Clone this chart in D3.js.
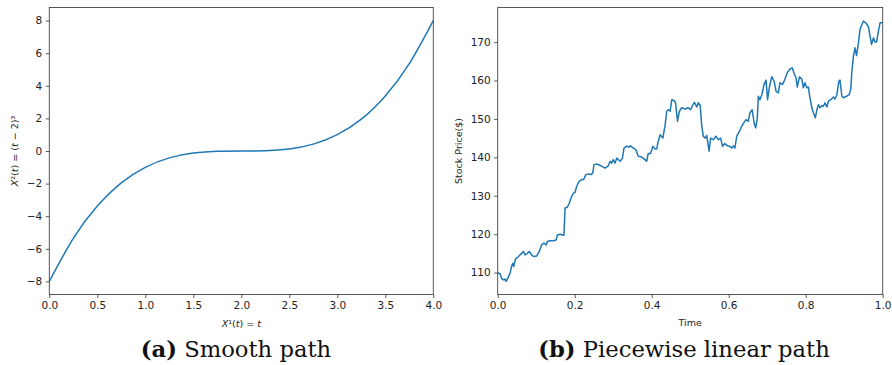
<!DOCTYPE html>
<html>
<head>
<meta charset="utf-8">
<script src="https://cdn.jsdelivr.net/npm/d3@7"></script>
<style>
  body { margin: 0; background: #fff; }
  svg text { font-family: "DejaVu Sans", sans-serif; }
  .caption { font-family: "DejaVu Serif", serif; }
</style>
</head>
<body>
<svg id="chart" width="892" height="365"></svg>
<script>
// (a) smooth path
const smoothT = [0, 0.25, 0.5, 0.75, 1, 1.25, 1.5, 1.75, 2, 2.25, 2.5, 2.75, 3, 3.25, 3.5, 3.75, 4];
const smoothX2 = [-8, -5.36, -3.38, -1.95, -1, -0.42, -0.125, -0.016, 0, 0.016, 0.125, 0.42, 1, 1.95, 3.38, 5.36, 8];
const smoothXTicks = [0, 0.5, 1, 1.5, 2, 2.5, 3, 3.5, 4];
const smoothYTicks = [-8, -6, -4, -2, 0, 2, 4, 6, 8];

// (b) piecewise linear stock path
const stockTime = [
  0.000, 0.006, 0.010, 0.015, 0.019, 0.022, 0.026, 0.032, 0.036, 0.039, 0.042, 0.046, 0.054, 0.062, 0.067, 0.071,
  0.077, 0.082, 0.088, 0.093, 0.101, 0.108, 0.114, 0.120, 0.126, 0.129, 0.136, 0.145, 0.152, 0.155, 0.162, 0.169,
  0.172, 0.175, 0.181, 0.186, 0.192, 0.197, 0.201, 0.205, 0.211, 0.218, 0.223, 0.229, 0.235, 0.242, 0.247, 0.250,
  0.257, 0.264, 0.270, 0.279, 0.287, 0.292, 0.296, 0.300, 0.305, 0.309, 0.313, 0.318, 0.324, 0.328, 0.335, 0.342,
  0.345, 0.352, 0.359, 0.365, 0.374, 0.380, 0.387, 0.391, 0.397, 0.403, 0.409, 0.413, 0.417, 0.422, 0.429, 0.435,
  0.439, 0.443, 0.448, 0.452, 0.458, 0.462, 0.467, 0.472, 0.478, 0.487, 0.495, 0.501, 0.506, 0.511, 0.517, 0.521,
  0.526, 0.530, 0.534, 0.539, 0.543, 0.549, 0.553, 0.560, 0.567, 0.573, 0.579, 0.584, 0.590, 0.597, 0.602, 0.608,
  0.612, 0.616, 0.621, 0.628, 0.634, 0.640, 0.645, 0.651, 0.655, 0.661, 0.666, 0.670, 0.674, 0.677, 0.681, 0.686,
  0.692, 0.697, 0.701, 0.706, 0.712, 0.718, 0.723, 0.729, 0.733, 0.740, 0.746, 0.752, 0.759, 0.765, 0.770, 0.775,
  0.778, 0.784, 0.790, 0.794, 0.798, 0.803, 0.807, 0.811, 0.816, 0.820, 0.825, 0.829, 0.833, 0.837, 0.842, 0.846,
  0.850, 0.855, 0.859, 0.865, 0.872, 0.876, 0.881, 0.886, 0.889, 0.894, 0.898, 0.906, 0.913, 0.917, 0.920, 0.924,
  0.928, 0.932, 0.937, 0.941, 0.945, 0.950, 0.957, 0.963, 0.967, 0.971, 0.976, 0.980, 0.984, 0.989, 0.993, 1.000
];
const stockPrice = [
  110.0, 109.7, 108.5, 108.1, 108.3, 107.7, 108.5, 109.8, 111.6, 112.4, 111.6, 113.5, 114.2, 115.0, 115.5, 114.6,
  115.0, 115.5, 114.6, 114.2, 114.3, 115.5, 117.2, 117.7, 117.2, 118.1, 118.3, 118.3, 118.5, 119.8, 120.0, 119.8,
  119.7, 126.8, 127.0, 128.1, 129.8, 130.7, 130.9, 132.4, 133.7, 134.2, 134.2, 135.5, 135.7, 135.5, 135.9, 138.1,
  138.3, 138.0, 137.7, 137.2, 137.8, 139.0, 138.5, 139.4, 138.5, 139.8, 139.4, 139.0, 139.8, 142.4, 142.9, 142.7,
  143.0, 142.4, 142.0, 140.3, 140.1, 139.6, 139.0, 141.0, 141.0, 142.9, 142.2, 142.2, 144.2, 145.9, 145.0, 148.5,
  152.0, 152.4, 152.0, 155.0, 154.8, 154.2, 149.4, 152.0, 152.9, 152.6, 152.9, 152.4, 153.5, 154.3, 153.1, 154.2,
  153.5, 148.1, 145.5, 145.0, 145.7, 141.6, 145.0, 144.6, 145.5, 144.6, 145.0, 142.9, 143.6, 143.0, 142.9, 142.4,
  143.0, 142.4, 145.5, 146.8, 148.1, 149.1, 149.8, 149.4, 151.6, 152.4, 149.0, 147.7, 149.8, 155.9, 155.0, 156.3,
  159.0, 160.1, 155.0, 158.5, 161.0, 159.8, 157.2, 156.8, 159.4, 159.0, 160.3, 162.0, 163.0, 163.3, 161.8, 160.7,
  158.3, 161.0, 160.3, 158.1, 159.4, 158.1, 158.3, 155.5, 152.9, 151.6, 150.3, 152.4, 153.7, 152.9, 153.5, 153.3,
  154.2, 153.1, 154.6, 155.0, 155.7, 155.2, 156.3, 159.8, 160.1, 155.9, 155.5, 155.9, 156.3, 157.7, 162.4, 166.3,
  168.5, 166.5, 169.8, 173.3, 174.3, 175.5, 174.9, 174.0, 171.6, 169.4, 171.1, 170.0, 170.0, 172.9, 175.0, 175.0
];
const stockXTicks = [0, 0.2, 0.4, 0.6, 0.8, 1.0];
const stockYTicks = [110, 120, 130, 140, 150, 160, 170];

const svg = d3.select('#chart');
const lineColor = '#1f77b4';
const plotTop = 7.5, plotBottom = 294.5;

function panel(opts) {
  const g = svg.append('g');
  const x = d3.scaleLinear().domain(opts.xDomain).range([opts.left, opts.right]);
  const y = d3.scaleLinear().domain(opts.yDomain).range([plotBottom, plotTop]);

  const line = d3.line()
    .x((d) => x(d[0]))
    .y((d) => y(d[1]))
    .curve(opts.curve);

  g.append('path')
    .datum(opts.data)
    .attr('d', line)
    .attr('fill', 'none')
    .attr('stroke', lineColor)
    .attr('stroke-width', 1.5)
    .attr('stroke-linejoin', 'round');

  // frame
  g.append('rect')
    .attr('x', opts.left)
    .attr('y', plotTop)
    .attr('width', opts.right - opts.left)
    .attr('height', plotBottom - plotTop)
    .attr('fill', 'none')
    .attr('stroke', '#444')
    .attr('stroke-width', 0.9);

  const xAxis = g.append('g')
    .attr('transform', `translate(0,${plotBottom})`)
    .call(d3.axisBottom(x).tickValues(opts.xTicks).tickFormat(d3.format('.1f'))
      .tickSize(3.5).tickPadding(3.5).tickSizeOuter(0));
  const yAxis = g.append('g')
    .attr('transform', `translate(${opts.left},0)`)
    .call(d3.axisLeft(y).tickValues(opts.yTicks).tickFormat(d3.format('d'))
      .tickSize(3.5).tickPadding(3.5).tickSizeOuter(0));

  [xAxis, yAxis].forEach((a) => {
    a.select('.domain').remove();
    a.selectAll('.tick line').attr('stroke', '#444').attr('stroke-width', 0.9);
    a.selectAll('.tick text')
      .attr('fill', '#222')
      .style('font-family', '"DejaVu Sans", sans-serif')
      .style('font-size', '10.5px');
  });

  return { g, x, y };
}

// (a)
const a = panel({
  left: 49.3, right: 433.3,
  xDomain: [0, 4], yDomain: [-8.8, 8.8],
  data: smoothT.map((t, i) => [t, smoothX2[i]]),
  curve: d3.curveNatural,
  xTicks: smoothXTicks, yTicks: smoothYTicks
});

const xLabA = a.g.append('text')
  .attr('x', (49.3 + 433.3) / 2)
  .attr('y', 327)
  .attr('text-anchor', 'middle')
  .attr('font-size', 9.5)
  .attr('fill', '#222');
xLabA.append('tspan').attr('font-style', 'italic').text('X');
xLabA.append('tspan').text('¹(');
xLabA.append('tspan').attr('font-style', 'italic').text('t');
xLabA.append('tspan').text(') = ');
xLabA.append('tspan').attr('font-style', 'italic').text('t');

const yLabA = a.g.append('text')
  .attr('transform', `translate(18,${(plotTop + plotBottom) / 2}) rotate(-90)`)
  .attr('text-anchor', 'middle')
  .attr('font-size', 9.5)
  .attr('fill', '#222');
yLabA.append('tspan').attr('font-style', 'italic').text('X');
yLabA.append('tspan').text('²(');
yLabA.append('tspan').attr('font-style', 'italic').text('t');
yLabA.append('tspan').text(') = (');
yLabA.append('tspan').attr('font-style', 'italic').text('t');
yLabA.append('tspan').text(' − 2)³');

// (b)
const b = panel({
  left: 497.7, right: 882.7,
  xDomain: [0, 1], yDomain: [104.3, 179.0],
  data: stockTime.map((t, i) => [t, stockPrice[i]]),
  curve: d3.curveLinear,
  xTicks: stockXTicks, yTicks: stockYTicks
});

b.g.append('text')
  .attr('x', (497.7 + 882.7) / 2)
  .attr('y', 325.5)
  .attr('text-anchor', 'middle')
  .attr('font-size', 9.5)
  .attr('fill', '#222')
  .text('Time');

b.g.append('text')
  .attr('transform', `translate(461.5,${(plotTop + plotBottom) / 2}) rotate(-90)`)
  .attr('text-anchor', 'middle')
  .attr('font-size', 9.5)
  .attr('fill', '#222')
  .text('Stock Price($)');

// captions
function caption(cx, tag, words) {
  const t = svg.append('text')
    .attr('class', 'caption')
    .attr('x', cx)
    .attr('y', 357)
    .attr('text-anchor', 'middle')
    .attr('font-size', 22.7)
    .attr('fill', '#111');
  t.append('tspan').attr('font-weight', 'bold').text(tag);
  t.append('tspan').text(' ' + words);
}
caption(236, '(a)', 'Smooth path');
caption(684, '(b)', 'Piecewise linear path');
</script>
</body>
</html>
